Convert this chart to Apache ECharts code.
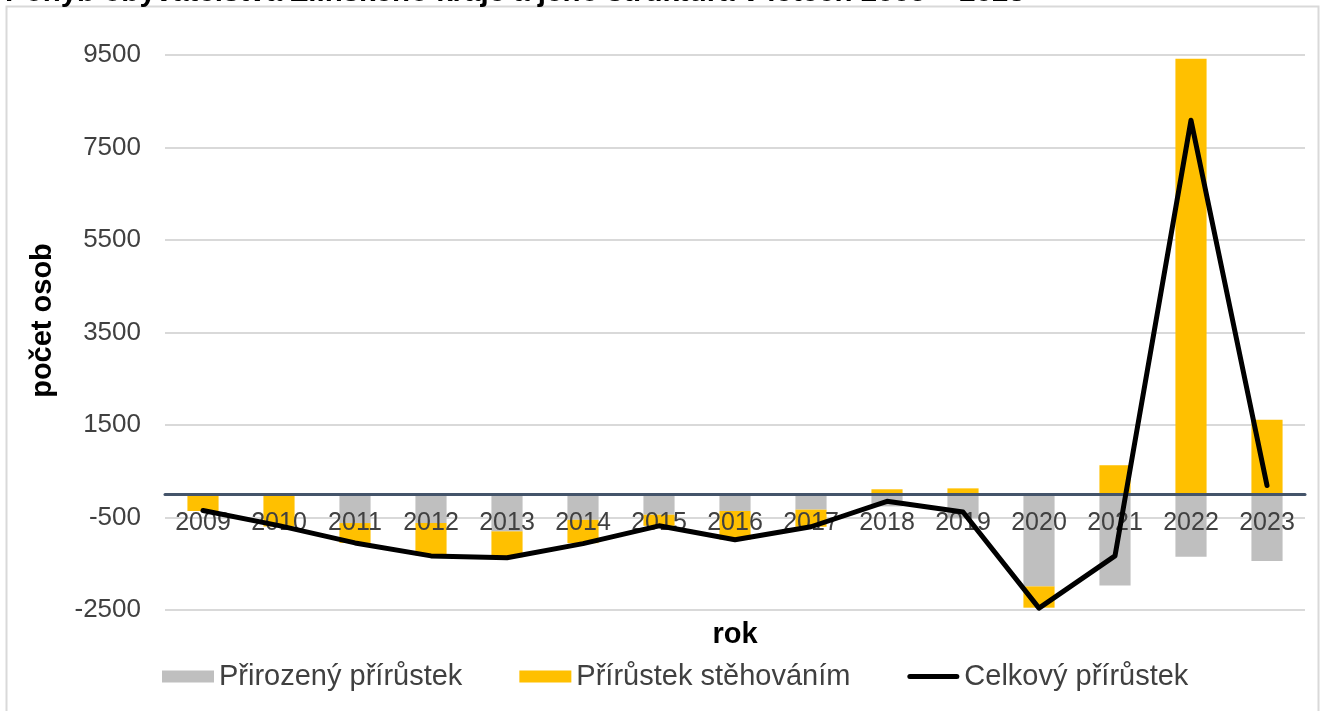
<!DOCTYPE html>
<html>
<head>
<meta charset="utf-8">
<script src="https://cdn.jsdelivr.net/npm/echarts@6/dist/echarts.min.js"></script>
<style>
html,body{margin:0;padding:0;background:#fff;}
#c{width:1325px;height:711px;}
</style>
</head>
<body>
<div id="c"></div>
<script>
const years = ['2009','2010','2011','2012','2013','2014','2015','2016','2017','2018','2019','2020','2021','2022','2023'];
const prirozeny = [10, 20, -620, -620, -800, -550, -440, -360, -330, -260, -510, -1990, -1970, -1350, -1440];
const stehovanim = [-360, -695, -430, -700, -560, -505, -240, -620, -370, 110, 130, -460, 630, 9420, 1615];
const celkovy = [-350, -675, -1050, -1330, -1370, -1065, -680, -980, -700, -150, -380, -2460, -1330, 8090, 190];
const yTicks = {min: -2500, max: 9500, interval: 2000};
const titleText = 'Pohyb obyvatelstva Zlínského kraje a jeho struktura v letech 2009 – 2023';

const gridTop = 55, gridBottom = 101, H = 711;
const zeroOffset = -(H - gridTop - gridBottom) * (0 - yTicks.min) / (yTicks.max - yTicks.min);

const chart = echarts.init(document.getElementById('c'));
const font = 'Liberation Sans, Arial, sans-serif';
chart.setOption({
  animation: false,
  textStyle: {fontFamily: font},
  graphic: [
    {type: 'rect', shape: {x: 6.5, y: 6.5, width: 1312, height: 720}, style: {fill: 'none', stroke: '#D9D9D9', lineWidth: 2}, z: -10},
    {type: 'text', x: 5, y: 7.5, style: {text: titleText, font: 'bold 29.5px ' + font, fill: '#000', verticalAlign: 'bottom', align: 'left'}}
  ],
  grid: {left: 165, right: 20, top: gridTop, bottom: gridBottom, containLabel: false, outerBoundsMode: 'none'},
  legend: {
    left: 162, top: 662, padding: 0,
    itemWidth: 52, itemHeight: 12, itemGap: 57,
    textStyle: {fontSize: 29, color: '#404040', fontFamily: font},
    data: [
      {name: 'Přirozený přírůstek', icon: 'rect'},
      {name: 'Přírůstek stěhováním', icon: 'rect'},
      {name: 'Celkový přírůstek', icon: 'path://M2.5,0 L49.5,0 A2.5,2.5 0 0 1 49.5,5 L2.5,5 A2.5,2.5 0 0 1 2.5,0 Z', itemStyle: {color: '#000'}}
    ]
  },
  xAxis: {
    type: 'category', data: years, z: 3, position: 'bottom', offset: zeroOffset,
    name: 'rok', nameLocation: 'middle', nameGap: 126,
    nameTextStyle: {fontSize: 29, fontWeight: 'bold', color: '#000'},
    axisLine: {onZero: false, lineStyle: {color: '#44546A', width: 3}},
    axisTick: {show: false},
    axisLabel: {fontSize: 25, color: '#404040', margin: 16},
    splitLine: {show: false}
  },
  yAxis: {
    type: 'value', min: yTicks.min, max: yTicks.max, interval: yTicks.interval,
    name: 'počet osob', nameLocation: 'middle', nameGap: 108, nameRotate: 90,
    nameTextStyle: {fontSize: 29, fontWeight: 'bold', color: '#000', padding: [0, 0, 0, 24]},
    axisLine: {show: false}, axisTick: {show: false},
    axisLabel: {fontSize: 26, color: '#404040', margin: 24, formatter: v => String(v)},
    splitLine: {lineStyle: {color: '#D9D9D9', width: 2}}
  },
  series: [
    {name: 'Přirozený přírůstek', type: 'bar', stack: 'a', data: prirozeny, barCategoryGap: '59%', itemStyle: {color: '#BFBFBF'}, z: 2},
    {name: 'Přírůstek stěhováním', type: 'bar', stack: 'a', data: stehovanim, barCategoryGap: '59%', itemStyle: {color: '#FFC000'}, z: 2},
    {name: 'Celkový přírůstek', type: 'line', data: celkovy, symbol: 'none', z: 6,
     lineStyle: {color: '#000', width: 5, cap: 'round', join: 'round'}, itemStyle: {color: '#000'}}
  ]
});
</script>
</body>
</html>
